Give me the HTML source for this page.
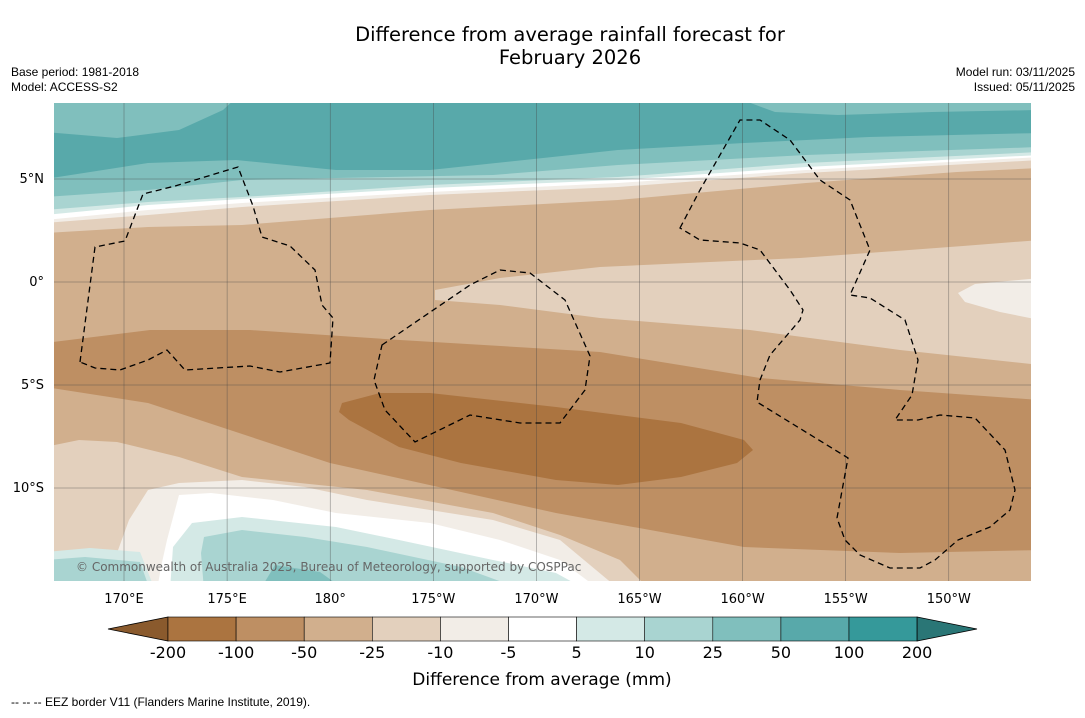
<!DOCTYPE html>
<html><head><meta charset="utf-8"><style>
body{margin:0;background:#fff;width:1085px;height:713px;overflow:hidden;font-family:"Liberation Sans","DejaVu Sans",sans-serif}
svg text{font-family:"DejaVu Sans","Liberation Sans",sans-serif}
svg text.sm{font-family:"Liberation Sans","DejaVu Sans",sans-serif}
</style></head><body>
<svg id="chart" width="1085" height="713" xmlns="http://www.w3.org/2000/svg">
<text x="570" y="41" font-size="19.5" text-anchor="middle">Difference from average rainfall forecast for</text>
<text x="570" y="64" font-size="19.5" text-anchor="middle">February 2026</text>
<text class="sm" x="11" y="76" font-size="12">Base period: 1981-2018</text>
<text class="sm" x="11" y="91" font-size="12">Model: ACCESS-S2</text>
<text class="sm" x="1075" y="76" font-size="12" text-anchor="end">Model run: 03/11/2025</text>
<text class="sm" x="1075" y="91" font-size="12" text-anchor="end">Issued: 05/11/2025</text>
<defs><clipPath id="mc"><rect x="54" y="103" width="977" height="478"/></clipPath></defs>
<g id="map" clip-path="url(#mc)"></g>
<g id="grid"></g>
<g id="eez" fill="none" stroke="#000" stroke-width="1.3" stroke-dasharray="6,4"></g>
<text x="76" y="571" font-size="12" fill="#666">© Commonwealth of Australia 2025, Bureau of Meteorology, supported by COSPPac</text>
<g id="axes"></g>
<g id="cbar"></g>
<text x="542" y="685" font-size="17" text-anchor="middle">Difference from average (mm)</text>
<text class="sm" x="11" y="706" font-size="12">--  --  -- EEZ border V11 (Flanders Marine Institute, 2019).</text>
</svg>
<script>
const cbLabels=["-200","-100","-50","-25","-10","-5","5","10","25","50","100","200"];
const cbColors=["#ab7440","#be8f63","#d1af8d","#e3d0bd","#f2ede7","#ffffff","#d4e9e6","#a9d4d1","#80bfbd","#58a9aa","#35999a"];
const lonLabels=["170°E","175°E","180°","175°W","170°W","165°W","160°W","155°W","150°W"];
const latLabels=["5°N","0°","5°S","10°S"];
const NS="http://www.w3.org/2000/svg";
function mk(t,a,p){const e=document.createElementNS(NS,t);for(const k in a)e.setAttribute(k,a[k]);p.appendChild(e);return e;}
const lonX=i=>124+i*103.1, latY=i=>179+i*103;
const map=document.getElementById('map');
function band(name,color,pts,closeBottom){
 let d="M"+pts.map(p=>p.join(",")).join(" L");
 if(closeBottom){d+=" L1040,590 L45,590 Z";} else d+=" Z";
 const e=mk('path',{d:d,fill:color},map);
 
 
}
band('band-25-50','#80bfbd',[[45,95],[1040,95]],true);
band('band-50-100-top','#58a9aa',[[45,132],[117,138],[179,130],[223,110],[236,98],[737,98],[775,112],[838,115],[932,112],[1040,110],[1040,133],[869,137],[744,143],[618,150],[430,170],[336,170],[236,160],[148,163],[45,179]],false);
band('band-10-25-top','#a9d4d1',[[45,197],[148,190],[242,180],[336,178],[493,175],[618,165],[806,155],[1040,147]],true);
band('band-5-10-top','#d4e9e6',[[45,210],[148,202],[242,197],[430,185],[618,177],[806,163],[1040,152]],true);
band('band-neutral-top','#ffffff',[[45,215],[148,205],[242,199],[430,188],[618,180],[806,167],[1040,155]],true);
band('band-m5-m10-top','#f2ede7',[[45,220],[148,210],[242,203],[430,192],[618,183],[806,170],[1040,157]],true);
band('band-m10-m25-top','#e3d0bd',[[45,223],[148,215],[242,207],[430,195],[618,187],[806,173],[1040,160]],true);
band('band-m25-m50','#d1af8d',[[45,233],[148,227],[242,225],[430,210],[618,200],[806,183],[957,172],[1040,168]],true);
band('band-m10-m25-wedge','#e3d0bd',[[435,290],[500,278],[600,267],[800,258],[963,246],[1040,240],[1040,365],[900,350],[750,330],[600,318],[500,305],[435,300]],false);
band('band-m5-m10-patch','#f2ede7',[[1040,278],[975,284],[958,293],[965,302],[1000,312],[1040,320]],false);
band('band-m50-m100','#be8f63',[[45,343],[150,330],[250,330],[400,340],[600,352],[760,378],[900,390],[1040,400]],true);
band('band-m100-m200','#ab7440',[[342,403],[380,393],[430,393],[556,407],[681,423],[744,440],[753,450],[737,463],[681,477],[618,485],[556,480],[461,463],[399,447],[349,420],[339,412]],false);
band('band-m25-m50-bottom','#d1af8d',[[45,387],[148,403],[330,463],[556,513],[744,547],[900,553],[1040,550],[1040,590],[45,590]],false);
band('band-m10-m25-bottom','#e3d0bd',[[45,447],[79,440],[117,442],[179,457],[242,477],[367,490],[493,513],[560,535],[620,560],[650,590],[45,590]],false);
band('band-m5-m10-bottom','#f2ede7',[[104,590],[117,553],[129,520],[148,490],[179,483],[242,480],[305,487],[367,500],[493,520],[560,540],[620,590]],false);
band('band-neutral-bottom','#ffffff',[[157,590],[161,567],[167,540],[179,495],[211,493],[273,500],[336,513],[430,523],[500,540],[560,560],[600,590]],false);
band('band-5-10-bottom','#d4e9e6',[[170,590],[173,547],[192,523],[242,517],[336,527],[399,540],[493,560],[556,573],[587,590]],false);
band('band-10-25-bottom','#a9d4d1',[[204,590],[201,553],[204,537],[242,530],[305,537],[367,547],[461,567],[524,590]],false);
band('band-25-50-bottom','#80bfbd',[[260,590],[275,565],[320,572],[345,590]],false);
band('band-5-10-corner','#d4e9e6',[[45,552],[90,548],[140,552],[155,590],[45,590]],false);
band('band-10-25-corner','#a9d4d1',[[45,560],[85,557],[140,562],[150,590],[45,590]],false);
const grid=document.getElementById('grid');
lonLabels.forEach((l,i)=>{const e=mk('line',{x1:lonX(i),x2:lonX(i),y1:103,y2:581,stroke:'#444','stroke-width':0.5,opacity:0.7},grid);
 
 
 const t=mk('text',{x:lonX(i),y:603,'font-size':13,'text-anchor':'middle'},document.getElementById('axes'));t.textContent=l;
 
 });
latLabels.forEach((l,i)=>{const e=mk('line',{x1:54,x2:1031,y1:latY(i),y2:latY(i),stroke:'#444','stroke-width':0.5,opacity:0.7},grid);
 
 
 const t=mk('text',{x:44,y:latY(i)+4,'font-size':13,'text-anchor':'end'},document.getElementById('axes'));t.textContent=l;
 
 });
const eez=document.getElementById('eez');
const eezPaths=[
"M80,362 L95,247 L125,241 L143,194 L175,186 L238,167 L253,206 L262,237 L290,246 L315,270 L322,305 L333,318 L330,363 L280,372 L250,366 L185,370 L167,350 L148,360 L120,370 L95,368 Z",
"M382,345 L470,285 L500,270 L530,273 L565,300 L590,356 L585,390 L560,423 L520,423 L470,415 L415,442 L385,410 L374,380 Z",
"M680,228 L700,190 L740,120 L760,120 L790,140 L820,180 L850,200 L870,250 L850,295 L870,298 L905,320 L918,360 L912,395 L895,420 L918,420 L940,415 L975,418 L1005,450 L1015,490 L1010,510 L990,527 L958,540 L935,560 L920,568 L890,568 L860,555 L845,540 L837,518 L848,458 L757,402 L760,380 L770,355 L800,320 L803,310 L790,290 L760,250 L740,243 L700,240 Z"];
eezPaths.forEach(d=>{const e=mk('path',{d:d},eez);
 
 });
const cb=document.getElementById('cbar');
const cx0=168,cw=68.1,cy=617,ch=24;
const la=mk('polygon',{points:`108,629 ${cx0},${cy} ${cx0},${cy+ch}`,fill:'#8a5a2d',stroke:'#000','stroke-width':0.8},cb);


cbColors.forEach((c,i)=>{const r=mk('rect',{x:cx0+i*cw,y:cy,width:cw,height:ch,fill:c,stroke:'#000','stroke-width':0.6},cb);
 
 });
const xe=cx0+cbColors.length*cw;
const ra=mk('polygon',{points:`${xe},${cy} 977,629 ${xe},${cy+ch}`,fill:'#2a7676',stroke:'#000','stroke-width':0.8},cb);


cbLabels.forEach((l,i)=>{const t=mk('text',{x:cx0+i*cw,y:658,'font-size':16,'text-anchor':'middle'},cb);t.textContent=l;
 
 });
</script>
</body></html>
